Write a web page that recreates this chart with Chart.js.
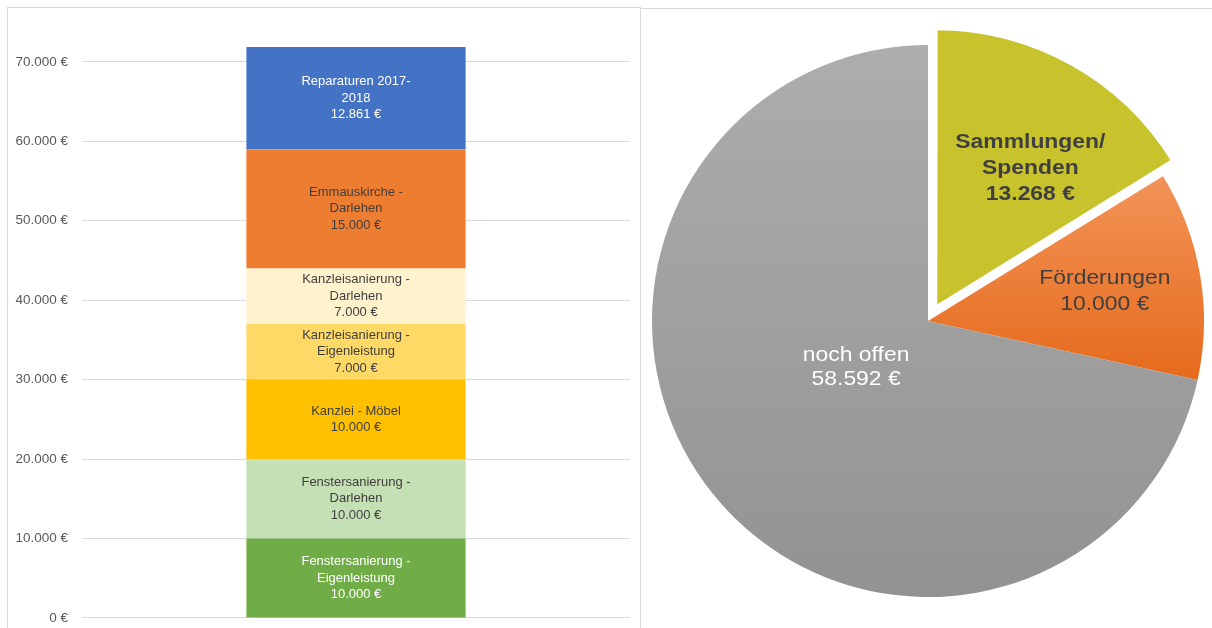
<!DOCTYPE html>
<html>
<head>
<meta charset="utf-8">
<script src="https://cdn.jsdelivr.net/npm/chart.js@4.4.1/dist/chart.umd.min.js"></script>
<style>
  html, body { margin: 0; padding: 0; background: #ffffff; overflow: hidden; }
  body { width: 1212px; height: 628px; position: relative; font-family: "Liberation Sans", Arial, sans-serif; }
  .frame { position: absolute; box-sizing: border-box; border: 1px solid #d9d9d9; background: #ffffff; }
  #leftFrame { left: 7px; top: 7px; width: 634px; height: 640px; }
  #rightFrame { left: 640px; top: 8px; width: 600px; height: 640px; }
  #barWrap { position: absolute; left: 8px; top: 8px; width: 632px; height: 632px; }
  #pieWrap { position: absolute; left: 648px; top: 8px; width: 560px; height: 620px; }
</style>
</head>
<body>
<div class="frame" id="leftFrame"></div>
<div class="frame" id="rightFrame"></div>
<div id="barWrap"><canvas id="bar"></canvas></div>
<div id="pieWrap"><canvas id="pie"></canvas></div>
<script>
// ---------- DATA ----------
const barCategories = [''];
const segNames = [
  'Fenstersanierung -\nEigenleistung',
  'Fenstersanierung -\nDarlehen',
  'Kanzlei - Möbel',
  'Kanzleisanierung -\nEigenleistung',
  'Kanzleisanierung -\nDarlehen',
  'Emmauskirche -\nDarlehen',
  'Reparaturen 2017-\n2018'
];
const segValues = [10000, 10000, 10000, 7000, 7000, 15000, 12861];
const yTicks = [0, 10000, 20000, 30000, 40000, 50000, 60000, 70000];

const pieLabels = ['Sammlungen/\nSpenden', 'Förderungen', 'noch offen'];
const pieValues = [13268, 10000, 58592];

// ---------- STYLES ----------
const segColors = ['#70ad47', '#c5e0b4', '#ffc000', '#ffd966', '#fff2cc', '#ed7d31', '#4472c4'];
const segTextColors = ['#ffffff', '#404040', '#404040', '#404040', '#404040', '#404040', '#ffffff'];
const pieTextColors = ['#3f3f3f', '#404040', '#ffffff'];
const pieTextWeights = ['bold', 'normal', 'normal'];
const pieLabelPlace = [ {r: 0.61, da: 5, lh: 26}, {r: 0.65, da: 0, lh: 26}, {r: 0.31, da: 6, lh: 24} ];
// Chart.js v4 arcs move by offset/4 along the mid angle (slightly enlarged by the sine fix);
// 64 gives a ~16px explode of the first slice.
const pieOffsets = [64, 0, 0];

function fmtEuro(v) {
  const s = String(Math.round(v)).replace(/\B(?=(\d{3})+(?!\d))/g, '.');
  return s + ' €';
}

Chart.defaults.font.family = '"Liberation Sans", Arial, sans-serif';
Chart.defaults.animation = false;

// ---------- BAR CHART ----------
const barLabelPlugin = {
  id: 'barLabels',
  afterDatasetsDraw(chart) {
    const ctx = chart.ctx;
    ctx.save();
    ctx.font = '13px "Liberation Sans", Arial, sans-serif';
    ctx.textAlign = 'center';
    ctx.textBaseline = 'middle';
    const lh = 16.5;
    chart.data.datasets.forEach((ds, i) => {
      const el = chart.getDatasetMeta(i).data[0];
      if (!el) return;
      const lines = segNames[i].split('\n').concat([fmtEuro(segValues[i])]);
      const cy = (el.y + el.base) / 2;
      const y0 = cy - (lines.length - 1) * lh / 2;
      ctx.fillStyle = segTextColors[i];
      lines.forEach((t, k) => ctx.fillText(t, el.x, y0 + k * lh));
    });
    ctx.restore();
  }
};

new Chart(document.getElementById('bar'), {
  type: 'bar',
  data: {
    labels: barCategories,
    datasets: segNames.map((n, i) => ({
      label: n,
      data: [segValues[i]],
      backgroundColor: segColors[i],
      borderWidth: 0,
      barPercentage: 0.4,
      categoryPercentage: 1.0
    }))
  },
  options: {
    responsive: true,
    maintainAspectRatio: false,
    events: [],
    layout: { padding: { left: 0, top: 38, right: 10, bottom: 11 } },
    plugins: { legend: { display: false }, tooltip: { enabled: false } },
    scales: {
      x: { stacked: true, display: false },
      y: {
        stacked: true,
        min: 0,
        max: 72000,
        afterBuildTicks(scale) { scale.ticks = yTicks.map(v => ({ value: v })); },
        afterFit(scale) { scale.width = 74; },
        border: { display: false },
        grid: { color: '#d9d9d9', lineWidth: 1, drawTicks: false },
        ticks: {
          padding: 14,
          color: '#595959',
          font: { size: 13.5 },
          callback: v => fmtEuro(v)
        }
      }
    }
  },
  plugins: [barLabelPlugin]
});

// ---------- PIE CHART ----------
function pieFill(context) {
  const i = context.dataIndex;
  if (i === 0) return '#c8c22c';
  const chart = context.chart;
  const area = chart.chartArea;
  if (!area) return i === 2 ? '#a0a0a0' : '#ed7d31';
  const g = chart.ctx.createLinearGradient(0, area.top, 0, area.bottom);
  if (i === 2) {
    g.addColorStop(0, '#adadad');
    g.addColorStop(1, '#929292');
  } else {
    g.addColorStop(0.22, '#f3955a');
    g.addColorStop(0.62, '#e5691a');
  }
  return g;
}

const pieLabelPlugin = {
  id: 'pieLabels',
  afterDatasetsDraw(chart) {
    const ctx = chart.ctx;
    const meta = chart.getDatasetMeta(0);
    ctx.save();
    ctx.textAlign = 'center';
    ctx.textBaseline = 'middle';
    meta.data.forEach((arc, i) => {
      const p = pieLabelPlace[i];
      const off = (arc.options.offset || 0) / 4;
      const midRaw = (arc.startAngle + arc.endAngle) / 2;
      const cx = arc.x + Math.cos(midRaw) * off;
      const cy = arc.y + Math.sin(midRaw) * off;
      const a = midRaw + p.da * Math.PI / 180;
      const x = cx + Math.cos(a) * arc.outerRadius * p.r;
      const y = cy + Math.sin(a) * arc.outerRadius * p.r;
      const lines = pieLabels[i].split('\n').concat([fmtEuro(pieValues[i])]);
      ctx.font = pieTextWeights[i] + ' 21px "Liberation Sans", Arial, sans-serif';
      ctx.fillStyle = pieTextColors[i];
      const y0 = y - (lines.length - 1) * p.lh / 2;
      lines.forEach((t, k) => {
        ctx.save();
        ctx.translate(x, y0 + k * p.lh);
        ctx.scale(1.09, 1);
        ctx.fillText(t, 0, 0);
        ctx.restore();
      });
    });
    ctx.restore();
  }
};

new Chart(document.getElementById('pie'), {
  type: 'pie',
  data: {
    labels: pieLabels,
    datasets: [{
      data: pieValues,
      backgroundColor: pieFill,
      borderColor: ['#ffffff', 'rgba(0,0,0,0)', 'rgba(0,0,0,0)'],
      borderWidth: [3, 0, 0],
      offset: pieOffsets,
      hoverOffset: 0
    }]
  },
  options: {
    responsive: true,
    maintainAspectRatio: false,
    events: [],
    radius: 276,
    layout: { padding: { left: 4, right: 4, top: 37, bottom: 31 } },
    plugins: { legend: { display: false }, tooltip: { enabled: false } }
  },
  plugins: [pieLabelPlugin]
});
</script>
</body>
</html>
